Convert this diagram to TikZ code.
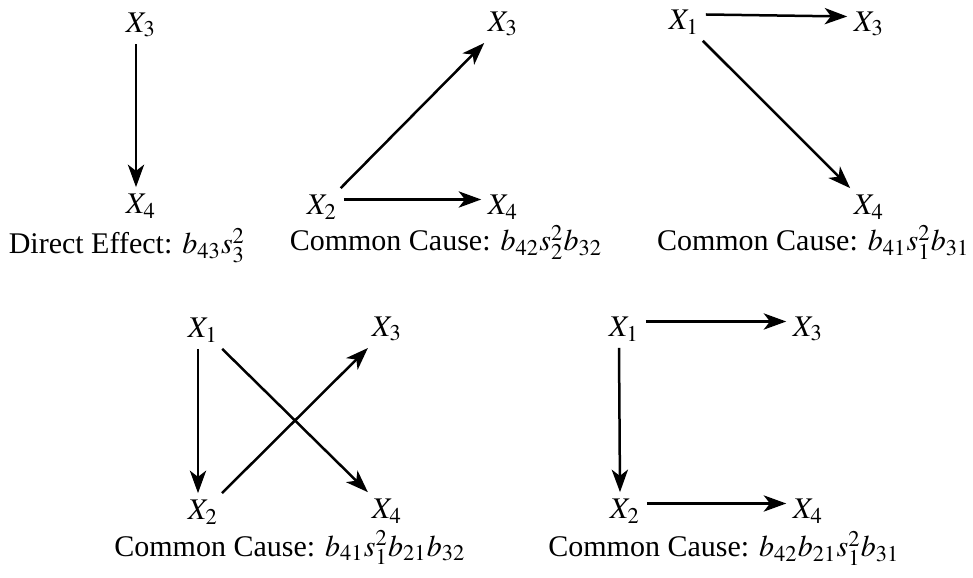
\documentclass[tikz,border=0pt]{standalone}
\usepackage{mathptmx}
\usepackage{fontspec}
\setmainfont{Liberation Serif}
\usetikzlibrary{arrows.meta}

\begin{document}
\begin{tikzpicture}[x=0.4pt,y=-0.4pt,
  var/.style={inner sep=2.5pt,font=\fontsize{12}{14}\selectfont},
  effect/.style={anchor=base,inner sep=0pt,font=\fontsize{12}{14}\selectfont},
  arr/.style={line width=1pt,-{Stealth[length=9pt,width=6.5pt,inset=2.5pt]}},
]
  \useasboundingbox (0,0) rectangle (973,578);

  % direct effect
  \node[var] (a3) at (141,25) {$X_3$};
  \node[var] (a4) at (141,206) {$X_4$};
  \draw[arr] ([xshift=-2pt]a3.south) -- ([xshift=-2pt]a4.north);
  \node[effect] (ea) at (127,254) {Direct Effect: $b_{43}s_3^2$};

  % common cause X2
  \node[var] (b3) at (503,24) {$X_3$};
  \node[var] (b2) at (322,207) {$X_2$};
  \node[var] (b4) at (503,207) {$X_4$};
  \draw[arr] (b2) -- (b3);
  \draw[arr] ([yshift=3pt]b2.east) -- ([yshift=3pt]b4.west);
  \node[effect] (eb) at (446,251) {Common Cause: $b_{42}s_2^2b_{32}$};

  % common cause X1
  \node[var] (c1) at (684,22) {$X_1$};
  \node[var] (c3) at (869,24) {$X_3$};
  \node[var] (c4) at (869,207) {$X_4$};
  \draw[arr] ([yshift=3pt]c1.east) -- ([yshift=3pt]c3.west);
  \draw[arr] (c1) -- (c4);
  \node[effect,anchor=base east] (ec) at (970,251) {Common Cause: $b_{41}s_1^2b_{31}$};

  % crossed paths
  \node[var] (d1) at (203,330) {$X_1$};
  \node[var] (d3) at (387,329) {$X_3$};
  \node[var] (d2) at (203,512) {$X_2$};
  \node[var] (d4) at (387,511) {$X_4$};
  \draw[arr] ([xshift=-2pt]d1.south) -- ([xshift=-2pt]d2.north);
  \draw[arr] (d1) -- (d4);
  \draw[arr] (d2) -- (d3);
  \node[effect] (ed) at (290,556) {Common Cause: $b_{41}s_1^2b_{21}b_{32}$};

  % chain through X2
  \node[var] (e1) at (624,329) {$X_1$};
  \node[var] (e3) at (808,329) {$X_3$};
  \node[var] (e2) at (625,511) {$X_2$};
  \node[var] (e4) at (808,511) {$X_4$};
  \draw[arr] ([yshift=3pt]e1.east) -- ([yshift=3pt]e3.west);
  \draw[arr] ([xshift=-2pt]e1.south) -- ([xshift=-2pt]e2.north);
  \draw[arr] ([yshift=3pt]e2.east) -- ([yshift=3pt]e4.west);
  \node[effect] (ee) at (724,557) {Common Cause: $b_{42}b_{21}s_1^2b_{31}$};
\end{tikzpicture}
\end{document}
